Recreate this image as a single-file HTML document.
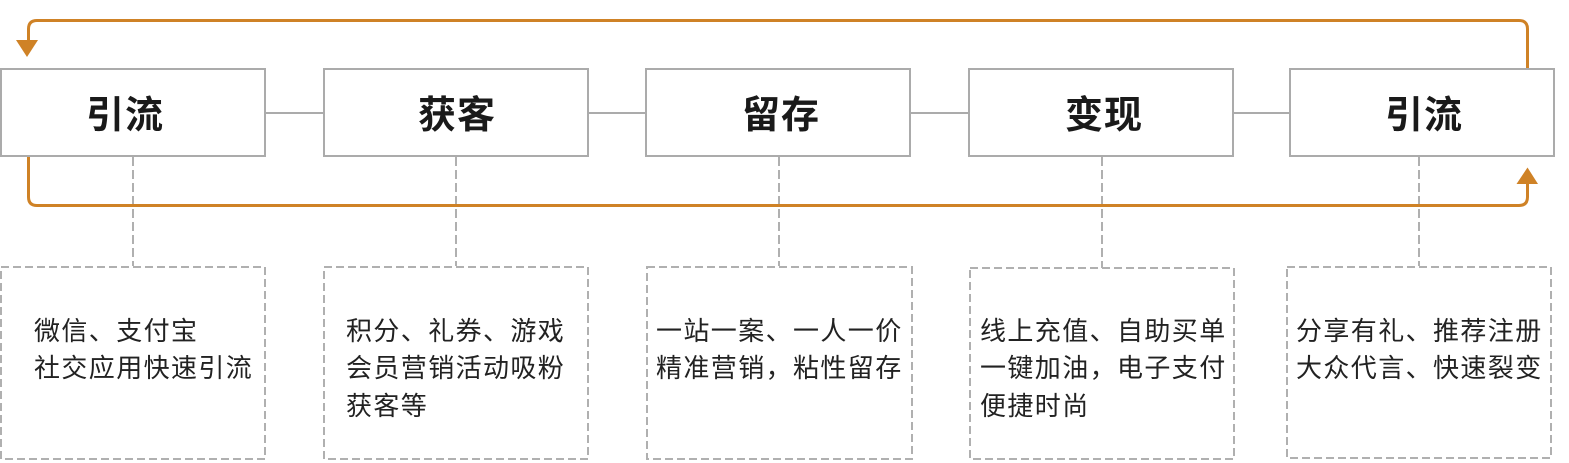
<!DOCTYPE html>
<html><head><meta charset="utf-8"><style>
html,body{margin:0;padding:0;background:#fff;}
svg{display:block;}
.lbl{font-family:"Liberation Sans","Noto Sans CJK SC",sans-serif;font-weight:bold;font-size:38px;letter-spacing:1px;fill:#1a1a1a;}
.d{font-family:"Liberation Sans","Noto Sans CJK SC",sans-serif;font-size:26px;letter-spacing:1.4px;fill:#222;}
</style></head><body>
<svg width="1569" height="463" viewBox="0 0 1569 463" xmlns="http://www.w3.org/2000/svg">
<g stroke="#ababab" stroke-width="2" fill="none">
<line x1="266" y1="113" x2="323" y2="113"/>
<line x1="589" y1="113" x2="646" y2="113"/>
<line x1="911" y1="113" x2="968" y2="113"/>
<line x1="1234" y1="113" x2="1289" y2="113"/>
</g>
<g stroke="#b0b0b0" stroke-width="2" stroke-dasharray="9 4" fill="none">
<line x1="133" y1="157" x2="133" y2="266"/>
<line x1="456" y1="157" x2="456" y2="266"/>
<line x1="779" y1="157" x2="779" y2="266"/>
<line x1="1102" y1="157" x2="1102" y2="268"/>
<line x1="1419" y1="157" x2="1419" y2="266"/>
</g>
<g stroke="#cf8226" stroke-width="3" fill="none">
<path d="M1527.5 69 V29 Q1527.5 20.5 1519 20.5 H37 Q28.5 20.5 28.5 29 V42"/>
<path d="M28.5 156 V197 Q28.5 205.5 37 205.5 H1519 Q1527.5 205.5 1527.5 197 V182"/>
</g>
<polygon points="16,40 38,40 27,57" fill="#cf8226"/>
<polygon points="1516.5,184 1538,184 1527.5,167.5" fill="#cf8226"/>
<g stroke="#ababab" stroke-width="2" fill="#fff">
<rect x="1" y="69" width="264" height="87"/>
<rect x="324" y="69" width="264" height="87"/>
<rect x="646" y="69" width="264" height="87"/>
<rect x="969" y="69" width="264" height="87"/>
<rect x="1290" y="69" width="264" height="87"/>
</g>
<text class="lbl" x="86" y="128">引流</text>
<text class="lbl" x="418" y="128">获客</text>
<text class="lbl" x="742" y="128">留存</text>
<text class="lbl" x="1065" y="128">变现</text>
<text class="lbl" x="1385" y="128">引流</text>
<g stroke="#b0b0b0" stroke-width="2" stroke-dasharray="8 4" fill="none">
<rect x="1" y="267" width="264" height="192"/>
<rect x="324" y="267" width="264" height="192"/>
<rect x="647" y="267" width="265" height="192"/>
<rect x="970" y="268" width="264" height="191"/>
<rect x="1287" y="267" width="264" height="191"/>
</g>
<text class="d" x="34" y="340">微信、支付宝</text>
<text class="d" x="34" y="377">社交应用快速引流</text>
<text class="d" x="346" y="340">积分、礼券、游戏</text>
<text class="d" x="346" y="377">会员营销活动吸粉</text>
<text class="d" x="346" y="415">获客等</text>
<text class="d" x="656" y="340">一站一案、一人一价</text>
<text class="d" x="656" y="377">精准营销，粘性留存</text>
<text class="d" x="980" y="340">线上充值、自助买单</text>
<text class="d" x="980" y="377">一键加油，电子支付</text>
<text class="d" x="980" y="415">便捷时尚</text>
<text class="d" x="1296" y="340">分享有礼、推荐注册</text>
<text class="d" x="1296" y="377">大众代言、快速裂变</text>
</svg>
</body></html>
